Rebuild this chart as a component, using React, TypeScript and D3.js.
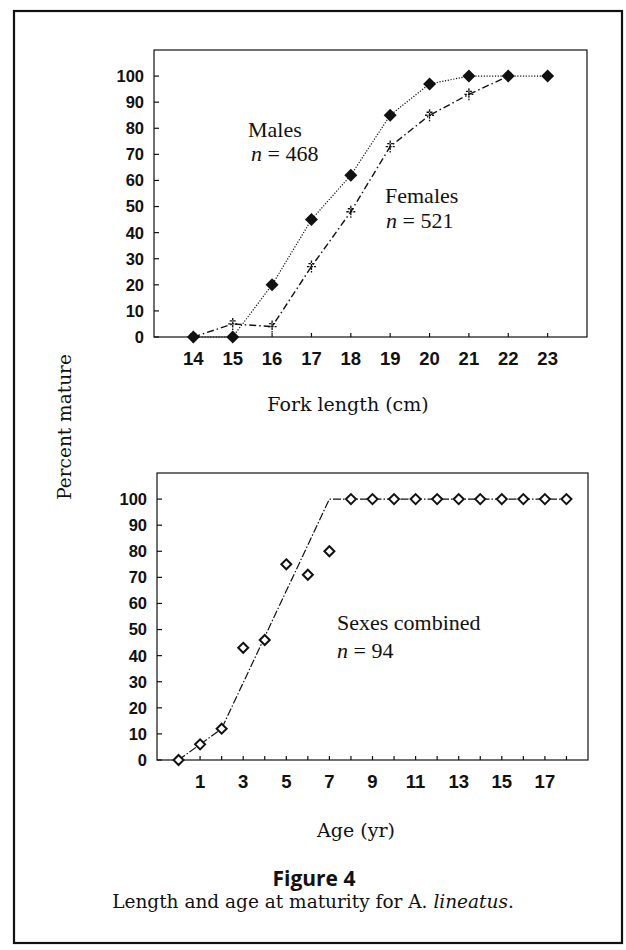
import React from 'react';
import * as d3 from 'd3';

// ---------- data ----------
const lengthCm = [14, 15, 16, 17, 18, 19, 20, 21, 22, 23];
const malePct = [0, 0, 20, 45, 62, 85, 97, 100, 100, 100];
const femaleLen = [14, 15, 16, 17, 18, 19, 20, 21, 22];
const femalePct = [0, 5, 4, 27, 48, 73, 85, 93, 100];

const ages = [0, 1, 2, 3, 4, 5, 6, 7, 8, 9, 10, 11, 12, 13, 14, 15, 16, 17, 18];
const combinedPct = [0, 6, 12, 43, 46, 75, 71, 80, 100, 100, 100, 100, 100, 100, 100, 100, 100, 100, 100];
const fitAges = [0, 1, 2, 7, 18];
const fitPct = [0, 6, 12, 100, 100];

const pctTicks = [0, 10, 20, 30, 40, 50, 60, 70, 80, 90, 100];
const lengthTicks = [14, 15, 16, 17, 18, 19, 20, 21, 22, 23];
const ageTicks = [0, 1, 2, 3, 4, 5, 6, 7, 8, 9, 10, 11, 12, 13, 14, 15, 16, 17, 18];
const ageTickLabels = [1, 3, 5, 7, 9, 11, 13, 15, 17];

const W = 626;
const H = 950;
const SANS = "'Liberation Sans', Arial, sans-serif";
const TIMES = "'Liberation Serif', 'Times New Roman', serif";
const SCHOOL = "'DejaVu Serif', serif";

const diamond = (r: number) => `M0,${-r}L${r},0L0,${r}L${-r},0Z`;

function Axes({ x, y, xTicks, xLabels, yTicks }: any) {
  const [x0, x1] = x.range();
  const [y0, y1] = y.range();
  return (
    <g>
      <rect x={x0} y={y1} width={x1 - x0} height={y0 - y1} fill="none" stroke="#111" strokeWidth={1.2} />
      {yTicks.map((t: number) => (
        <g key={'y' + t}>
          <line x1={x0} x2={x0 + 5} y1={y(t)} y2={y(t)} stroke="#111" strokeWidth={1.2} />
          <text x={x0 - 10} y={y(t)} dy="0.36em" textAnchor="end" fontFamily={SANS} fontWeight={700} fontSize={16.5} fill="#111">{t}</text>
        </g>
      ))}
      {xTicks.map((t: number) => (
        <line key={'x' + t} x1={x(t)} x2={x(t)} y1={y0} y2={y0 - 4} stroke="#111" strokeWidth={1.2} />
      ))}
      {xLabels.map((t: number) => (
        <text key={'xl' + t} x={x(t)} y={y0 + 21} dy="0.36em" textAnchor="middle" fontFamily={SANS} fontWeight={700} fontSize={18.5} fill="#111">{t}</text>
      ))}
    </g>
  );
}

export default function App() {
  // top chart: fork length
  const xT = d3.scaleLinear().domain([13, 24]).range([154, 587]);
  const yT = d3.scaleLinear().domain([0, 110]).range([337, 50]);
  // bottom chart: age
  const xB = d3.scaleLinear().domain([-1, 19]).range([157, 588]);
  const yB = d3.scaleLinear().domain([0, 110]).range([760, 473]);

  const maleLine = d3.line<number>().x((_, i) => xT(lengthCm[i])).y((d) => yT(d))(malePct) || '';
  const femaleLine = d3.line<number>().x((_, i) => xT(femaleLen[i])).y((d) => yT(d))(femalePct) || '';
  const fitLine = d3.line<number>().x((_, i) => xB(fitAges[i])).y((d) => yB(d))(fitPct) || '';

  return (
    <svg width={W} height={H} viewBox={`0 0 ${W} ${H}`} style={{ position: 'absolute', left: 0, top: 0, background: '#fff' }}>
      <rect x={0} y={0} width={W} height={H} fill="#fff" />
      {/* outer frame */}
      <rect x={14} y={11} width={608} height={932} fill="none" stroke="#111" strokeWidth={2.2} />

      {/* ---------- top chart ---------- */}
      <Axes x={xT} y={yT} xTicks={lengthTicks} xLabels={lengthTicks} yTicks={pctTicks} />
      <path d={femaleLine} fill="none" stroke="#111" strokeWidth={1.4} strokeDasharray="7,3,1.5,3" />
      <path d={maleLine} fill="none" stroke="#111" strokeWidth={1.2} strokeDasharray="1.2,1.6" />
      {femalePct.map((d, i) => (
        <path key={'f' + i} transform={`translate(${xT(femaleLen[i])},${yT(d)})`} d="M-4.5,0H4.5M0,-6V6M-3,-3H3" fill="none" stroke="#111" strokeWidth={1.3} strokeDasharray="2.5,1" />
      ))}
      {malePct.map((d, i) => (
        <path key={'m' + i} transform={`translate(${xT(lengthCm[i])},${yT(d)})`} d={diamond(6.5)} fill="#111" />
      ))}
      <text x={248} y={137} fontFamily={TIMES} fontSize={22} fill="#111">Males</text>
      <text x={251} y={161} fontFamily={TIMES} fontSize={22} fill="#111">
        <tspan fontStyle="italic">n</tspan> = 468
      </text>
      <text x={385} y={203} fontFamily={TIMES} fontSize={22} fill="#111">Females</text>
      <text x={386} y={228} fontFamily={TIMES} fontSize={22} fill="#111">
        <tspan fontStyle="italic">n</tspan> = 521
      </text>
      <text x={348} y={411} textAnchor="middle" fontFamily={SCHOOL} fontSize={19} fill="#111">Fork length (cm)</text>

      {/* ---------- bottom chart ---------- */}
      <Axes x={xB} y={yB} xTicks={ageTicks} xLabels={ageTickLabels} yTicks={pctTicks} />
      <path d={fitLine} fill="none" stroke="#111" strokeWidth={1.2} strokeDasharray="8,2,1.5,2" />
      {combinedPct.map((d, i) => (
        <path key={'c' + i} transform={`translate(${xB(ages[i])},${yB(d)})`} d={diamond(5)} fill="#fff" stroke="#111" strokeWidth={2} />
      ))}
      <text x={337} y={630} fontFamily={TIMES} fontSize={22} fill="#111">Sexes combined</text>
      <text x={337} y={658} fontFamily={TIMES} fontSize={22} fill="#111">
        <tspan fontStyle="italic">n</tspan> = 94
      </text>
      <text x={356} y={837} textAnchor="middle" fontFamily={SCHOOL} fontSize={19} fill="#111">Age (yr)</text>

      {/* shared y label */}
      <text transform="translate(71,427) rotate(-90)" textAnchor="middle" fontFamily={SCHOOL} fontSize={18.5} fill="#111">Percent mature</text>

      {/* caption */}
      <text x={314} y={886} textAnchor="middle" fontFamily="'Open Sans', sans-serif" fontWeight={700} fontSize={21} fill="#111">Figure 4</text>
      <text x={313} y={908} textAnchor="middle" fontFamily={SCHOOL} fontSize={18.5} fill="#111">
        Length and age at maturity for A. <tspan fontStyle="italic">lineatus</tspan>.
      </text>
    </svg>
  );
}
